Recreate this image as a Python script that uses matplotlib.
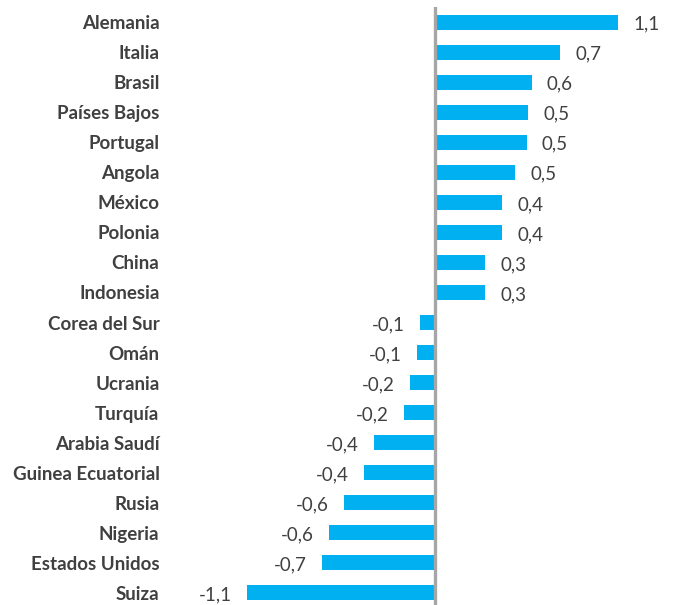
import matplotlib
matplotlib.use("Agg")
import matplotlib.pyplot as plt

countries = ["Alemania", "Italia", "Brasil", "Países Bajos", "Portugal", "Angola",
             "México", "Polonia", "China", "Indonesia", "Corea del Sur", "Omán",
             "Ucrania", "Turquía", "Arabia Saudí", "Guinea Ecuatorial", "Rusia",
             "Nigeria", "Estados Unidos", "Suiza"]
values = [1.10, 0.75, 0.58, 0.56, 0.55, 0.48, 0.40, 0.40, 0.30, 0.30,
          -0.09, -0.11, -0.15, -0.19, -0.37, -0.43, -0.55, -0.64, -0.68, -1.13]
labels = ["1,1", "0,7", "0,6", "0,5", "0,5", "0,5", "0,4", "0,4", "0,3", "0,3",
          "-0,1", "-0,1", "-0,2", "-0,2", "-0,4", "-0,4", "-0,6", "-0,6", "-0,7", "-1,1"]

plt.rcParams['font.family'] = ['Lato', 'DejaVu Sans']

W, H = 675, 605
fig = plt.figure(figsize=(W / 100, H / 100), dpi=100)
left_px, right_px = 240, 643
top_px, bottom_px = 7, 605
ax = fig.add_axes([left_px / W, 1 - bottom_px / H, (right_px - left_px) / W, (bottom_px - top_px) / H])

y = list(range(len(countries)))
ax.barh(y, values, height=0.5, color="#00B0F0", zorder=2)
ax.set_xlim(-1.175, 1.25)
ax.set_ylim(19.4, -0.5)
ax.axvline(0, color="#A6A6A6", linewidth=2.4, zorder=3)

for yi, v, lab in zip(y, values, labels):
    if v >= 0:
        ax.annotate(lab, (v, yi), xytext=(11, -1.5), textcoords="offset points",
                    ha="left", va="center", fontsize=13.5, color="#404040")
    else:
        ax.annotate(lab, (v, yi), xytext=(-11, -1.5), textcoords="offset points",
                    ha="right", va="center", fontsize=13.5, color="#404040")

ax.set_yticks(y)
ax.set_yticklabels(countries, fontsize=13.5, fontweight="bold", color="#404040")
ax.tick_params(axis="y", length=0, pad=58)
ax.set_xticks([])
for s in ax.spines.values():
    s.set_visible(False)

fig.savefig("out.png", dpi=100)
